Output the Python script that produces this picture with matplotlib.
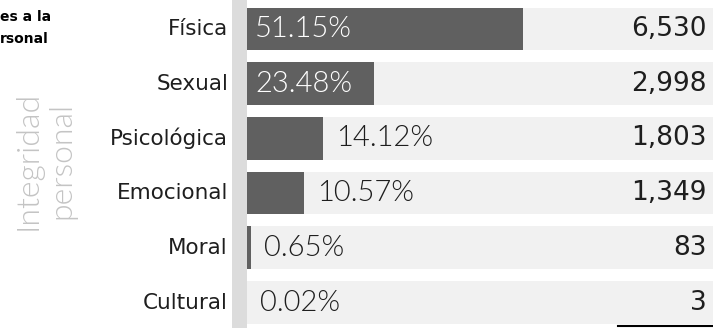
import matplotlib

matplotlib.use("Agg")
import matplotlib.pyplot as plt
from matplotlib.lines import Line2D
from matplotlib.patches import Rectangle

categories = ["Física", "Sexual", "Psicológica", "Emocional", "Moral", "Cultural"]
percentages = [51.15, 23.48, 14.12, 10.57, 0.65, 0.02]
counts = [6530, 2998, 1803, 1349, 83, 3]
heading = ["es a la", "rsonal"]

W, H = 713, 328
DARK = "#606060"
TRACK = "#f1f1f1"
STRIP = "#dcdcdc"
INK = "#1e1e1e"

fig = plt.figure(figsize=(W / 100, H / 100), dpi=100)
fig.patch.set_facecolor("white")

# thin gray rule left of the bars, full height
fig.patches.append(Rectangle((232 / W, 0), 15 / W, 1, transform=fig.transFigure,
                             facecolor=STRIP, edgecolor="none", zorder=0))

left_px = 247
ax = fig.add_axes([left_px / W, 0, (W - left_px) / W, 1])
ax.set_facecolor("none")
px_per_pct = 5.4
xmax = (W - left_px) / px_per_pct
ax.set_xlim(0, xmax)
ax.set_ylim(5.466, -0.53)
ax.axis("off")

rows = list(range(len(categories)))
bar_h = 0.78
ax.barh(rows, [xmax] * len(rows), height=bar_h, color=TRACK, left=0, zorder=1)
ax.barh(rows, percentages, height=bar_h, color=DARK, zorder=2)

for i, (cat, pct, n) in enumerate(zip(categories, percentages, counts)):
    ax.annotate(cat, (0, i), xytext=(-19, 0), textcoords="offset pixels",
                ha="right", va="center", fontsize=15.5, color=INK,
                family="DejaVu Sans", annotation_clip=False)
    label = f"{pct:.2f}%"
    if pct > 20:
        ax.annotate(label, (0, i), xytext=(8, 0), textcoords="offset pixels",
                    ha="left", va="center", fontsize=21, color="white",
                    family="Lato", fontweight=300, zorder=3)
    else:
        ax.annotate(label, (pct, i), xytext=(13, 0), textcoords="offset pixels",
                    ha="left", va="center", fontsize=21, color=INK,
                    family="Lato", fontweight=300, zorder=3)
    ax.text((707 - left_px) / (W - left_px), i, f"{n:,}",
            transform=ax.get_yaxis_transform(), ha="right", va="center",
            fontsize=19, color=INK, family="DejaVu Sans", zorder=3)

# section label, rotated
fig.text(45 / W, 1 - 160 / H, "Integridad\npersonal", rotation=90,
         ha="center", va="center", multialignment="center",
         fontsize=23, color="#c4c4c4", family="Lato", fontweight=300,
         linespacing=1.2)

# panel heading, running off the left edge
fig.text(0, 1 - 21 / H, heading[0], ha="left", va="baseline",
         fontsize=10, fontweight="bold", color="black", family="DejaVu Sans")
fig.text(0, 1 - 43 / H, heading[1], ha="left", va="baseline",
         fontsize=10, fontweight="bold", color="black", family="DejaVu Sans")

fig.lines.append(Line2D([618 / W, 1], [1 - 326 / H, 1 - 326 / H],
                        transform=fig.transFigure, color="black", linewidth=1.5))

fig.savefig("out.png", dpi=100)
